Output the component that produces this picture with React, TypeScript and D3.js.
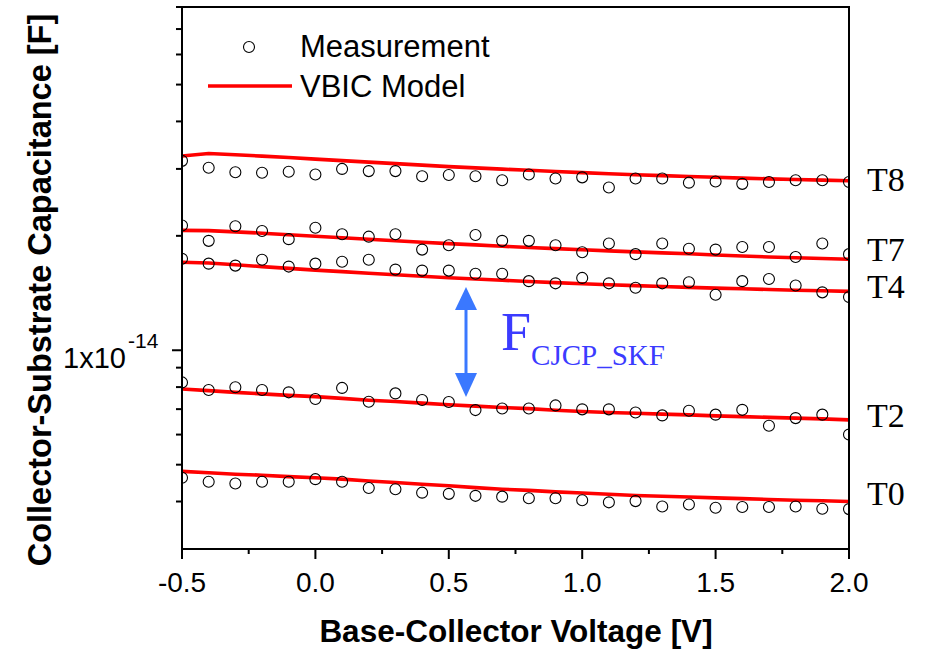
import React from "react";
import * as d3 from "d3";

// Base-collector bias points [V]
const voltages = [
  -0.5, -0.4, -0.3, -0.2, -0.1, 0.0, 0.1, 0.2, 0.3, 0.4, 0.5, 0.6, 0.7,
  0.8, 0.9, 1.0, 1.1, 1.2, 1.3, 1.4, 1.5, 1.6, 1.7, 1.8, 1.9, 2.0,
];

// Measured collector-substrate capacitance, in fF (1e-15 F)
const measT8 = [31.5, 30.2, 29.4, 29.3, 29.5, 29.0, 30.0, 29.6, 29.6, 28.7, 28.9, 28.7, 28.0, 29.0, 28.3, 28.5, 26.8, 28.3, 28.3, 27.6, 27.8, 27.4, 27.7, 28.0, 28.0, 27.7];
const measT7 = [21.3, 19.4, 21.2, 20.6, 19.6, 21.0, 20.2, 19.9, 20.2, 18.4, 18.9, 20.1, 19.4, 19.4, 18.9, 18.1, 19.1, 17.9, 19.1, 18.5, 18.4, 18.7, 18.7, 17.6, 19.1, 17.9];
const measT4 = [17.4, 16.9, 16.7, 17.3, 16.6, 16.9, 17.1, 17.3, 16.3, 16.2, 16.2, 15.9, 15.9, 15.2, 15.0, 15.5, 15.0, 14.6, 15.0, 15.1, 14.0, 15.2, 15.4, 14.8, 14.2, 13.8];
const measT2 = [8.23, 7.86, 7.99, 7.86, 7.75, 7.44, 7.96, 7.32, 7.70, 7.40, 7.31, 6.96, 7.03, 7.03, 7.16, 6.99, 6.99, 6.86, 6.74, 6.93, 6.77, 6.97, 6.33, 6.63, 6.77, 6.00];
const measT0 = [4.62, 4.51, 4.46, 4.51, 4.51, 4.58, 4.51, 4.34, 4.31, 4.22, 4.19, 4.14, 4.12, 4.08, 4.08, 4.03, 3.98, 4.01, 3.88, 3.93, 3.85, 3.87, 3.87, 3.88, 3.83, 3.82];

// VBIC model capacitance, in fF
const modelT8 = [32.45, 32.92, 32.68, 32.42, 32.15, 31.84, 31.55, 31.26, 30.98, 30.70, 30.42, 30.18, 29.96, 29.75, 29.53, 29.33, 29.14, 28.96, 28.80, 28.65, 28.51, 28.37, 28.25, 28.13, 28.03, 27.93];
const modelT7 = [20.67, 20.64, 20.49, 20.32, 20.14, 19.95, 19.77, 19.59, 19.41, 19.24, 19.08, 18.93, 18.78, 18.64, 18.51, 18.38, 18.26, 18.15, 18.04, 17.94, 17.80, 17.70, 17.60, 17.52, 17.43, 17.35];
const modelT4 = [17.05, 16.96, 16.78, 16.60, 16.42, 16.25, 16.10, 15.94, 15.80, 15.65, 15.52, 15.40, 15.28, 15.16, 15.06, 14.96, 14.87, 14.79, 14.71, 14.64, 14.57, 14.51, 14.45, 14.39, 14.34, 14.29];
const modelT2 = [7.91, 7.83, 7.75, 7.68, 7.61, 7.55, 7.47, 7.39, 7.33, 7.26, 7.19, 7.13, 7.07, 7.02, 6.95, 6.90, 6.86, 6.83, 6.79, 6.76, 6.72, 6.69, 6.66, 6.63, 6.60, 6.56];
const modelT0 = [4.80, 4.76, 4.72, 4.69, 4.65, 4.62, 4.58, 4.53, 4.49, 4.44, 4.40, 4.35, 4.31, 4.28, 4.24, 4.21, 4.18, 4.15, 4.13, 4.11, 4.09, 4.07, 4.05, 4.03, 4.02, 4.00];

const seriesNames = ["T8", "T7", "T4", "T2", "T0"];
const measured = [measT8, measT7, measT4, measT2, measT0];
const modeled = [modelT8, modelT7, modelT4, modelT2, modelT0];
// capacitance level (fF) at which each temperature label is centred
const labelLevels = [28.0, 18.35, 14.67, 6.71, 4.18];

// Axis ticks
const xMajorTicks = [-0.5, 0.0, 0.5, 1.0, 1.5, 2.0];
const xMinorTicks = [-0.25, 0.25, 0.75, 1.25, 1.75];
const yMajorTicks = [1e-14];
const yMinorTicks = [4e-15, 5e-15, 6e-15, 7e-15, 8e-15, 9e-15, 2e-14, 3e-14, 4e-14, 5e-14, 6e-14, 7e-14, 8e-14];

const W = 926;
const H = 650;
const left = 182;
const right = 849;
const top = 7;
const bottom = 549;

const SANS = "'Liberation Sans', Arial, Helvetica, sans-serif";
const SERIF = "'Liberation Serif', 'Times New Roman', Times, serif";
const RED = "#ff0000";
const BLUE_TEXT = "#3b3bff";
const BLUE_ARROW = "#3a78ff";

export default function App() {
  const x = d3.scaleLinear().domain([-0.5, 2.0]).range([left, right]);
  const y = d3.scaleLog().domain([3e-15, 8e-14]).range([bottom, top]);
  const fF = 1e-15;

  const line = d3
    .line<number>()
    .x((_, i) => x(voltages[i]))
    .y((d) => y(d * fF));

  return (
    <svg
      width={W}
      height={H}
      viewBox={`0 0 ${W} ${H}`}
      style={{ position: "absolute", left: 0, top: 0, background: "#fff" }}
    >
      <defs>
        <clipPath id="plotClip">
          <rect x={left} y={top} width={right - left} height={bottom - top} />
        </clipPath>
      </defs>

      <g clipPath="url(#plotClip)">
        {modeled.map((m, k) => (
          <path key={`m${k}`} d={line(m) || ""} fill="none" stroke={RED} strokeWidth={3.6} strokeLinejoin="round" />
        ))}
        {measured.map((s, k) =>
          s.map((v, i) => (
            <circle
              key={`c${k}-${i}`}
              cx={x(voltages[i])}
              cy={y(v * fF)}
              r={5.5}
              fill="none"
              stroke="#000"
              strokeWidth={1.1}
            />
          ))
        )}
      </g>

      {/* frame */}
      <rect x={left} y={top} width={right - left} height={bottom - top} fill="none" stroke="#000" strokeWidth={2} />

      {/* x ticks */}
      {xMajorTicks.map((t) => (
        <g key={`xt${t}`}>
          <line x1={x(t)} x2={x(t)} y1={bottom} y2={bottom + 10} stroke="#000" strokeWidth={2} />
          <text x={x(t)} y={592} textAnchor="middle" fontFamily={SANS} fontSize={28}>
            {t.toFixed(1)}
          </text>
        </g>
      ))}
      {xMinorTicks.map((t) => (
        <line key={`xm${t}`} x1={x(t)} x2={x(t)} y1={bottom} y2={bottom + 5} stroke="#000" strokeWidth={2} />
      ))}

      {/* y ticks */}
      {yMajorTicks.map((t) => (
        <g key={`yt${t}`}>
          <line x1={left - 10} x2={left} y1={y(t)} y2={y(t)} stroke="#000" strokeWidth={2} />
          <text x={126} y={y(t) + 18} textAnchor="end" fontFamily={SANS} fontSize={29}>
            1x10
          </text>
          <text x={128} y={y(t) - 2} textAnchor="start" fontFamily={SANS} fontSize={21}>
            -14
          </text>
        </g>
      ))}
      {yMinorTicks.map((t) => (
        <line key={`ym${t}`} x1={left - 6} x2={left} y1={y(t)} y2={y(t)} stroke="#000" strokeWidth={2} />
      ))}

      {/* axis titles */}
      <text x={516} y={642} textAnchor="middle" fontFamily={SANS} fontWeight="bold" fontSize={31.5}>
        Base-Collector Voltage [V]
      </text>
      <text
        transform={`translate(51, 290) rotate(-90)`}
        textAnchor="middle"
        fontFamily={SANS}
        fontWeight="bold"
        fontSize={32.5}
      >
        Collector-Substrate Capacitance [F]
      </text>

      {/* legend */}
      <circle cx={249} cy={47} r={5.5} fill="none" stroke="#000" strokeWidth={1.1} />
      <text x={300} y={57} fontFamily={SANS} fontSize={31}>
        Measurement
      </text>
      <line x1={208} x2={292} y1={86} y2={86} stroke={RED} strokeWidth={3.6} />
      <text x={300} y={97} fontFamily={SANS} fontSize={31}>
        VBIC Model
      </text>

      {/* temperature labels */}
      {seriesNames.map((n, k) => (
        <text key={n} x={867} y={y(labelLevels[k] * fF) + 11} fontFamily={SERIF} fontSize={34}>
          {n}
        </text>
      ))}

      {/* FCJCP_SKF annotation */}
      <g>
        <line x1={466} x2={466} y1={306} y2={376} stroke={BLUE_ARROW} strokeWidth={3} />
        <polygon points="466,287 455,310 477,310" fill={BLUE_ARROW} />
        <polygon points="466,397 455,373 477,373" fill={BLUE_ARROW} />
        <text x={501} y={350} fontFamily={SERIF} fontSize={54} fill={BLUE_TEXT}>
          F
          <tspan fontSize={29} dy={15}>
            CJCP_SKF
          </tspan>
        </text>
      </g>
    </svg>
  );
}
